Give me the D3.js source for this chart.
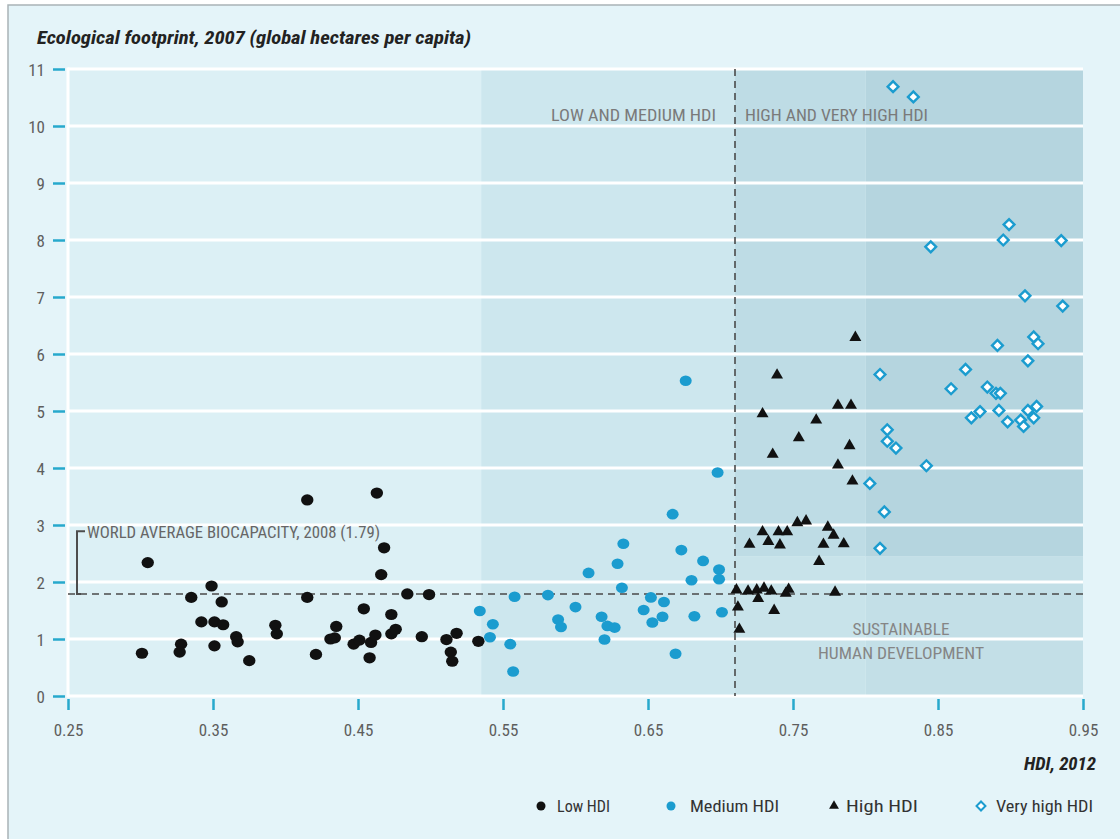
<!DOCTYPE html>
<html>
<head>
<meta charset="utf-8">
<script src="https://cdn.jsdelivr.net/npm/d3@7"></script>
<style>
  html, body { margin: 0; padding: 0; background: #ffffff; }
  svg { display: block; }
  .cond { font-family: "Liberation Sans Narrow", "Roboto Condensed", "DejaVu Sans Condensed", "Liberation Sans", sans-serif; }
</style>
</head>
<body>
<svg id="chart" width="1120" height="839"></svg>
<script>
// ---------------- DATA ----------------
const yTicks = [0, 1, 2, 3, 4, 5, 6, 7, 8, 9, 10, 11];
const xTicks = [0.25, 0.35, 0.45, 0.55, 0.65, 0.75, 0.85, 0.95];
const xTickLabels = ["0.25", "0.35", "0.45", "0.55", "0.65", "0.75", "0.85", "0.95"];

// HDI group boundaries (shading) and biocapacity line
const bandBreaks = [0.25, 0.535, 0.71, 0.80, 0.95];
const upperBandFloor = 2.45;
const biocapacity = 1.79;
const hdiDivide = 0.71;

// Low HDI (circles, black)
const lowHdi = [0.415, 0.463, 0.305, 0.468, 0.466, 0.349, 0.335, 0.356, 0.415, 0.484, 0.499,
  0.454, 0.473, 0.342, 0.351, 0.357, 0.393, 0.394, 0.435, 0.434, 0.431, 0.366, 0.367, 0.328,
  0.327, 0.301, 0.351, 0.375, 0.421, 0.447, 0.451, 0.459, 0.462, 0.458, 0.473, 0.476, 0.494,
  0.511, 0.514, 0.515, 0.518, 0.533];
const lowEf = [3.44, 3.56, 2.34, 2.60, 2.13, 1.93, 1.73, 1.65, 1.73, 1.79, 1.78,
  1.53, 1.43, 1.30, 1.30, 1.25, 1.24, 1.09, 1.22, 1.02, 1.00, 1.04, 0.95, 0.91,
  0.77, 0.75, 0.88, 0.62, 0.73, 0.91, 0.98, 0.94, 1.07, 0.67, 1.09, 1.17, 1.04,
  0.99, 0.77, 0.61, 1.10, 0.96];

// Medium HDI (circles, blue)
const medHdi = [0.676, 0.698, 0.667, 0.633, 0.673, 0.629, 0.609, 0.688, 0.699, 0.680, 0.699,
  0.632, 0.558, 0.581, 0.652, 0.661, 0.534, 0.600, 0.647, 0.543, 0.541, 0.555, 0.557, 0.588,
  0.590, 0.618, 0.622, 0.627, 0.620, 0.653, 0.660, 0.682, 0.701, 0.669];
const medEf = [5.53, 3.92, 3.19, 2.67, 2.56, 2.32, 2.16, 2.37, 2.22, 2.03, 2.05,
  1.90, 1.74, 1.77, 1.73, 1.65, 1.49, 1.56, 1.51, 1.26, 1.03, 0.91, 0.43, 1.34,
  1.21, 1.39, 1.23, 1.20, 0.99, 1.29, 1.39, 1.40, 1.47, 0.74];

// High HDI (triangles, black)
const highHdi = [0.793, 0.739, 0.781, 0.790, 0.729, 0.766, 0.754, 0.789, 0.736, 0.781, 0.791,
  0.753, 0.759, 0.729, 0.740, 0.746, 0.774, 0.778, 0.720, 0.733, 0.741, 0.771, 0.785, 0.768,
  0.711, 0.719, 0.725, 0.730, 0.735, 0.726, 0.745, 0.747, 0.779, 0.712, 0.737, 0.713];
const highEf = [6.29, 5.63, 5.10, 5.10, 4.95, 4.84, 4.53, 4.39, 4.24, 4.05, 3.77,
  3.04, 3.07, 2.88, 2.88, 2.88, 2.96, 2.82, 2.66, 2.71, 2.65, 2.66, 2.67, 2.36,
  1.86, 1.84, 1.86, 1.89, 1.84, 1.71, 1.80, 1.87, 1.82, 1.56, 1.50, 1.17];

// Very high HDI (open diamonds, blue)
const veryHighHdi = [0.819, 0.833, 0.899, 0.895, 0.845, 0.935, 0.910, 0.936, 0.916, 0.919, 0.891,
  0.912, 0.869, 0.810, 0.859, 0.884, 0.890, 0.893, 0.892, 0.879, 0.873, 0.898, 0.907, 0.912,
  0.918, 0.916, 0.909, 0.815, 0.815, 0.821, 0.842, 0.803, 0.813, 0.810];
const veryHighEf = [10.69, 10.51, 8.27, 8.00, 7.88, 7.99, 7.02, 6.84, 6.30, 6.18, 6.15,
  5.88, 5.73, 5.64, 5.39, 5.42, 5.31, 5.31, 5.01, 4.99, 4.88, 4.81, 4.84, 5.01,
  5.08, 4.88, 4.73, 4.67, 4.47, 4.35, 4.04, 3.73, 3.23, 2.59];

const legendLabels = ["Low HDI", "Medium HDI", "High HDI", "Very high HDI"];

// ---------------- DRAW ----------------
const svg = d3.select("#chart");
const BLUE = "#1b9ccf";
const TEAL = "#27a9cc";

const x = d3.scaleLinear().domain([0.25, 0.95]).range([68, 1083]);
const y = d3.scaleLinear().domain([0, 11]).range([696, 69]);

// page background + frame
svg.append("rect").attr("x", 8).attr("y", 5).attr("width", 1200).attr("height", 900)
  .attr("fill", "#e4f4f9").attr("stroke", "#a9b3b6").attr("stroke-width", 1.5);

// shading bands
const bands = [
  {x0: bandBreaks[0], x1: bandBreaks[1], y0: 0, y1: 11, c: "#dcf0f5"},
  {x0: bandBreaks[1], x1: bandBreaks[2], y0: 0, y1: 11, c: "#cde7ee"},
  {x0: bandBreaks[2], x1: bandBreaks[3], y0: 0, y1: upperBandFloor, c: "#c8e3ea"},
  {x0: bandBreaks[2], x1: bandBreaks[3], y0: upperBandFloor, y1: 11, c: "#bedce5"},
  {x0: bandBreaks[3], x1: bandBreaks[4], y0: 0, y1: upperBandFloor, c: "#c3dfe7"},
  {x0: bandBreaks[3], x1: bandBreaks[4], y0: upperBandFloor, y1: 11, c: "#b5d5df"}
];
svg.append("g").selectAll("rect").data(bands).join("rect")
  .attr("x", d => x(d.x0)).attr("width", d => x(d.x1) - x(d.x0))
  .attr("y", d => y(d.y1)).attr("height", d => y(d.y0) - y(d.y1))
  .attr("fill", d => d.c);

// white gridlines
svg.append("g").selectAll("line").data(yTicks).join("line")
  .attr("x1", x(0.25)).attr("x2", x(0.95))
  .attr("y1", d => y(d)).attr("y2", d => y(d))
  .attr("stroke", "#ffffff").attr("stroke-width", 3);
svg.append("line").attr("x1", x(0.25)).attr("x2", x(0.25))
  .attr("y1", y(11) - 1.5).attr("y2", y(0) + 1.5)
  .attr("stroke", "#ffffff").attr("stroke-width", 3);

// axes
const yAxis = svg.append("g").attr("transform", "translate(65,0)")
  .call(d3.axisLeft(y).tickValues(yTicks).tickSize(12).tickPadding(8).tickFormat(d3.format("d")));
yAxis.select(".domain").remove();
yAxis.selectAll(".tick line").attr("stroke", TEAL).attr("stroke-width", 2.5);
yAxis.selectAll(".tick text").attr("class", "cond").attr("fill", "#5e5e5e")
  .attr("font-size", 17).attr("dy", "0.36em");

const xAxis = svg.append("g").attr("transform", "translate(0,699)")
  .call(d3.axisBottom(x).tickValues(xTicks).tickSize(11).tickPadding(0)
    .tickFormat((d, i) => xTickLabels[i]));
xAxis.select(".domain").remove();
xAxis.selectAll(".tick line").attr("stroke", TEAL).attr("stroke-width", 2.5);
xAxis.selectAll(".tick text").attr("class", "cond").attr("fill", "#5e5e5e")
  .attr("font-size", 17).attr("y", 25).attr("dy", "0.71em");

// dashed reference lines
svg.append("line").attr("x1", x(0.25)).attr("x2", x(0.95))
  .attr("y1", y(biocapacity)).attr("y2", y(biocapacity))
  .attr("stroke", "#4a4a4a").attr("stroke-width", 1.6).attr("stroke-dasharray", "7,5");
svg.append("line").attr("x1", x(hdiDivide)).attr("x2", x(hdiDivide))
  .attr("y1", y(11)).attr("y2", y(0))
  .attr("stroke", "#4a4a4a").attr("stroke-width", 1.6).attr("stroke-dasharray", "7,5");

// biocapacity bracket
const bx = 77;
svg.append("path")
  .attr("d", `M${bx + 8},${y(2.89)} H${bx} V${y(biocapacity)} H${bx + 4}`)
  .attr("fill", "none").attr("stroke", "#4d4d4d").attr("stroke-width", 2);

// annotations
function label(txt, xp, yp, anchor, len, fill, size) {
  svg.append("text").attr("class", "cond").attr("x", xp).attr("y", yp)
    .attr("text-anchor", anchor).attr("fill", fill).attr("font-size", size)
    .attr("textLength", len).attr("lengthAdjust", "spacingAndGlyphs").text(txt);
}
label("WORLD AVERAGE BIOCAPACITY, 2008 (1.79)", 87, 538, "start", 293, "#666", 16);
label("LOW AND MEDIUM HDI", 716, 121, "end", 165, "#7a7a7a", 16);
label("HIGH AND VERY HIGH HDI", 745, 121, "start", 183, "#7a7a7a", 16);
label("SUSTAINABLE", 901, 635, "middle", 97, "#858585", 16);
label("HUMAN DEVELOPMENT", 901, 659, "middle", 166, "#858585", 16);

// title and x label
svg.append("text").attr("class", "cond").attr("x", 37).attr("y", 44)
  .attr("font-size", 18).attr("font-weight", "bold").attr("font-style", "italic")
  .attr("fill", "#222").attr("textLength", 434).attr("lengthAdjust", "spacingAndGlyphs")
  .text("Ecological footprint, 2007 (global hectares per capita)");
svg.append("text").attr("class", "cond").attr("x", 1096).attr("y", 770)
  .attr("text-anchor", "end").attr("font-size", 18).attr("font-weight", "bold")
  .attr("font-style", "italic").attr("fill", "#222")
  .attr("textLength", 72).attr("lengthAdjust", "spacingAndGlyphs").text("HDI, 2012");

// points
const pts = (xs, ys) => xs.map((v, i) => [v, ys[i]]);
const gPts = svg.append("g");
gPts.selectAll("ellipse.low").data(pts(lowHdi, lowEf)).join("ellipse")
  .attr("class", "low").attr("cx", d => x(d[0])).attr("cy", d => y(d[1]))
  .attr("rx", 6.2).attr("ry", 5.6).attr("fill", "#111");
gPts.selectAll("ellipse.med").data(pts(medHdi, medEf)).join("ellipse")
  .attr("class", "med").attr("cx", d => x(d[0])).attr("cy", d => y(d[1]))
  .attr("rx", 6).attr("ry", 5.3).attr("fill", BLUE);
const tri = d3.symbol().type(d3.symbolTriangle).size(62);
gPts.selectAll("path.high").data(pts(highHdi, highEf)).join("path")
  .attr("class", "high").attr("d", tri)
  .attr("transform", d => `translate(${x(d[0])},${y(d[1])})`).attr("fill", "#111");
const sq = d3.symbol().type(d3.symbolSquare).size(58);
gPts.selectAll("path.vhigh").data(pts(veryHighHdi, veryHighEf)).join("path")
  .attr("class", "vhigh").attr("d", sq)
  .attr("transform", d => `translate(${x(d[0])},${y(d[1])}) rotate(45)`)
  .attr("fill", "#ffffff").attr("stroke", BLUE).attr("stroke-width", 2.4);

// legend
const legendX = [541, 671, 834, 981];
const legendTextX = [557, 690, 846, 996];
const legendW = [53, 89, 72, 97];
const ly = 806;
const lg = svg.append("g");
lg.append("circle").attr("cx", legendX[0]).attr("cy", ly).attr("r", 4.5).attr("fill", "#111");
lg.append("circle").attr("cx", legendX[1]).attr("cy", ly).attr("r", 4.5).attr("fill", BLUE);
lg.append("path").attr("d", d3.symbol().type(d3.symbolTriangle).size(42))
  .attr("transform", `translate(${legendX[2]},${ly})`).attr("fill", "#111");
lg.append("path").attr("d", d3.symbol().type(d3.symbolSquare).size(40))
  .attr("transform", `translate(${legendX[3]},${ly}) rotate(45)`)
  .attr("fill", "#fff").attr("stroke", BLUE).attr("stroke-width", 2);
legendLabels.forEach((t, i) => {
  lg.append("text").attr("class", "cond").attr("x", legendTextX[i]).attr("y", ly + 6)
    .attr("font-size", 17).attr("fill", "#333")
    .attr("textLength", legendW[i]).attr("lengthAdjust", "spacingAndGlyphs").text(t);
});
</script>
</body>
</html>
